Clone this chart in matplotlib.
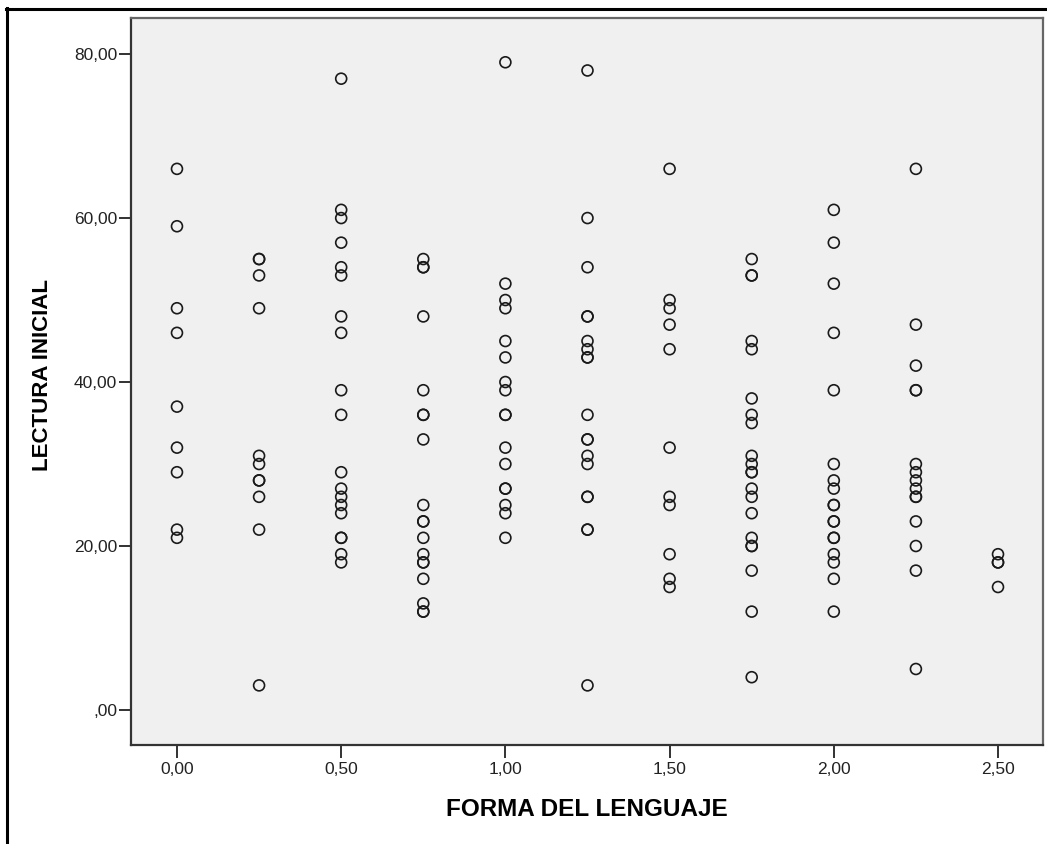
import matplotlib
matplotlib.use("Agg")
import matplotlib.pyplot as plt
from matplotlib.lines import Line2D

# FORMA DEL LENGUAJE -> valores de LECTURA INICIAL en cada grupo
x00 = [66, 59, 49, 46, 37, 32, 29, 22, 21]
x025 = [55, 55, 53, 49, 31, 30, 28, 28, 26, 22, 3]
x050 = [77, 61, 60, 57, 54, 53, 48, 46, 39, 36, 29, 27, 26, 25, 24, 21, 21, 19, 18]
x075 = [55, 54, 54, 48, 39, 36, 36, 33, 25, 23, 23, 21, 19, 18, 18, 16, 13, 12, 12]
x100 = [79, 52, 50, 49, 45, 43, 40, 39, 36, 36, 32, 30, 27, 27, 25, 24, 21]
x125 = [78, 60, 54, 48, 48, 45, 44, 43, 43, 36, 33, 33, 31, 30, 26, 26, 22, 22, 3]
x150 = [66, 50, 49, 47, 44, 32, 26, 25, 19, 16, 15]
x175 = [55, 53, 53, 45, 44, 38, 36, 35, 31, 30, 29, 29, 27, 26, 24, 21, 20, 20, 17, 12, 4]
x200 = [61, 57, 52, 46, 39, 30, 28, 27, 25, 25, 23, 23, 21, 21, 19, 18, 16, 12]
x225 = [66, 47, 42, 39, 39, 30, 29, 28, 27, 26, 26, 23, 20, 17, 5]
x250 = [19, 18, 18, 15]

grupos = [0.0, 0.25, 0.5, 0.75, 1.0, 1.25, 1.5, 1.75, 2.0, 2.25, 2.5]
lectura = [x00, x025, x050, x075, x100, x125, x150, x175, x200, x225, x250]

xticks = [0.0, 0.5, 1.0, 1.5, 2.0, 2.5]
xlabels = ["0,00", "0,50", "1,00", "1,50", "2,00", "2,50"]
yticks = [0, 20, 40, 60, 80]
ylabels = [",00", "20,00", "40,00", "60,00", "80,00"]

W, H = 1047, 844
fig = plt.figure(figsize=(W / 100, H / 100), dpi=100)
ax = fig.add_axes([131 / W, 1 - 745 / H, (1043 - 131) / W, (745 - 18) / H])
ax.set_facecolor("#f0f0f0")

for g, vals in zip(grupos, lectura):
    ax.scatter([g] * len(vals), vals, s=62, facecolors="none",
               edgecolors="#1a1a1a", linewidths=1.2, zorder=3)

ax.set_xlim(-0.14, 2.637)
ax.set_ylim(-4.27, 84.4)

ax.set_xticks(xticks)
ax.set_xticklabels(xlabels)
ax.set_yticks(yticks)
ax.set_yticklabels(ylabels)
for t in ax.get_xticklabels() + ax.get_yticklabels():
    t.set_family(["Liberation Sans", "DejaVu Sans"])
ax.tick_params(direction="out", length=9, width=1.3, colors="#222222",
               labelsize=12.5)
ax.tick_params(axis="x", pad=3)
ax.tick_params(axis="y", pad=1)

for s in ax.spines.values():
    s.set_color("#666666")
    s.set_linewidth(1.6)
ax.spines["left"].set_color("#333333")
ax.spines["bottom"].set_color("#333333")

lbl_font = ["Liberation Sans Narrow", "Liberation Sans", "DejaVu Sans"]
fig.text(587 / W, 1 - 809 / H, "FORMA DEL LENGUAJE", fontsize=17.5,
         fontweight="bold", family=lbl_font, ha="center", va="center")
fig.text(43 / W, 1 - 375 / H, "LECTURA INICIAL", fontsize=16,
         fontweight="bold", family=lbl_font, ha="center", va="center",
         rotation=90)

# marco exterior: solo arriba e izquierda
fig.lines.append(Line2D([6 / W, 1], [1 - 8.5 / H, 1 - 8.5 / H], transform=fig.transFigure,
                        color="black", linewidth=2.2))
fig.lines.append(Line2D([7 / W, 7 / W], [0, 1 - 7.5 / H], transform=fig.transFigure,
                        color="black", linewidth=2.2))

fig.savefig("out.png", dpi=100)
